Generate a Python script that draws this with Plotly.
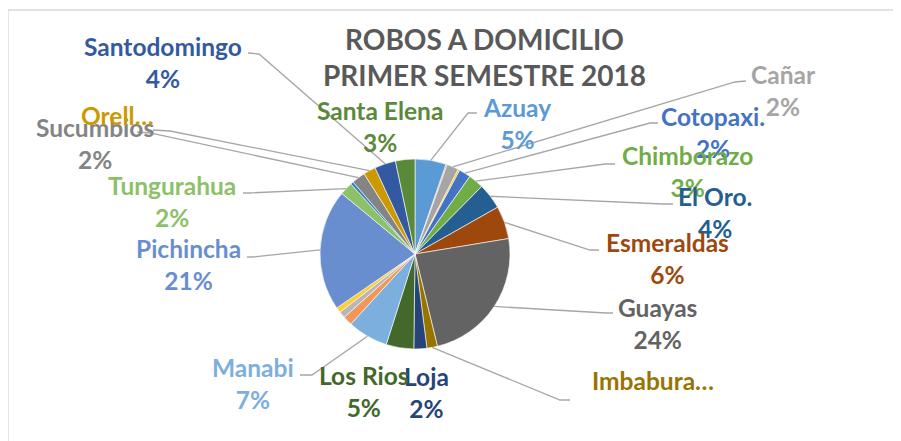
import math
import plotly.graph_objects as go

# provinces in the order Excel drew them (clockwise from 12 o'clock)
provincias = ['Azuay', 'Bolívar', 'Cañar', 'Carchi', 'Cotopaxi', 'Chimborazo',
              'El Oro', 'Esmeraldas', 'Guayas', 'Imbabura', 'Loja', 'Los Rios',
              'Manabi', 'Morona Santiago', 'Napo', 'Pastaza', 'Pichincha',
              'Tungurahua', 'Zamora Chinchipe', 'Sucumbios', 'Orellana',
              'Santodomingo', 'Santa Elena']
porcentaje = [5.3, 0.2, 2.0, 0.3, 2.0, 2.6, 4.4, 5.6, 23.8, 1.8, 2.2, 4.7,
              6.9, 1.6, 1.1, 0.9, 20.6, 2.2, 0.5, 2.3, 2.1, 3.6, 3.3]
colores = ['#5B9BD5', '#ED7D31', '#A5A5A5', '#FFC000', '#4472C4', '#70AD47',
           '#255E91', '#9E480E', '#636363', '#997300', '#264478', '#43682B',
           '#7CAFDD', '#F1975A', '#B7B7B7', '#FFCD33', '#698ED0', '#8CC168',
           '#327DC2', '#848484', '#CC9A00', '#335AA1', '#5A8A39']

# data label text shown by Excel; False = truncated label without percent
etiquetas = {
    'Santodomingo': ('Santodomingo', True),
    'Santa Elena': ('Santa Elena', True),
    'Azuay': ('Azuay', True),
    'Cañar': ('Cañar', True),
    'Cotopaxi': ('Cotopaxi.', True),
    'Chimborazo': ('Chimborazo', True),
    'El Oro': ('El Oro.', True),
    'Esmeraldas': ('Esmeraldas', True),
    'Guayas': ('Guayas', True),
    'Imbabura': ('Imbabura…', False),
    'Loja': ('Loja', True),
    'Los Rios': ('Los Rios', True),
    'Manabi': ('Manabi', True),
    'Pichincha': ('Pichincha', True),
    'Tungurahua': ('Tungurahua', True),
    'Sucumbios': ('Sucumbios', True),
    'Orellana': ('Orell…', False),
}

W, H = 901, 441
OFF = 8  # page body margin
CX, CY, R = 415, 254, 95

# label block centres (px in the screenshot) and leader line elbow/end
pos_etiqueta = {
    'Santodomingo': (163, 63), 'Santa Elena': (380, 127), 'Azuay': (517, 123),
    'Cañar': (783, 90), 'Cotopaxi': (713, 132), 'Chimborazo': (687, 171),
    'El Oro': (715, 212), 'Esmeraldas': (667, 258), 'Guayas': (657, 323),
    'Imbabura': (653, 380), 'Loja': (426, 392), 'Los Rios': (364, 391),
    'Manabi': (253, 383), 'Pichincha': (188, 264), 'Tungurahua': (172, 201),
    'Sucumbios': (95, 143), 'Orellana': (117, 115),
}
guias = {
    'Santodomingo': [(259, 54), (248, 53)],
    'Azuay': [(468, 113), (477, 113)],
    'Cañar': [(735, 82), (746, 81)],
    'Cotopaxi': [(650, 123), (658, 123)],
    'Chimborazo': [(605, 164), (615, 164)],
    'El Oro': [(663, 204), (673, 204)],
    'Esmeraldas': [(590, 250), (599, 250)],
    'Guayas': [(606, 313), (613, 313)],
    'Imbabura': [(560, 400), (570, 400)],
    'Manabi': [(312, 375), (300, 375)],
    'Pichincha': [(253, 257), (247, 257)],
    'Tungurahua': [(249, 193), (243, 193)],
    'Sucumbios': [(150, 133), (137, 132)],
    'Orellana': [(170, 131), (153, 130)],
}


def px(x):
    return (x - OFF) / W


def py(y):
    return 1 - (y - OFF) / H


fig = go.Figure(go.Pie(
    labels=provincias, values=porcentaje, sort=False, direction='clockwise',
    rotation=0, textinfo='none', hoverinfo='label+percent',
    marker=dict(colors=colores, line=dict(color='white', width=0.6)),
    domain=dict(x=[px(CX - R), px(CX + R)], y=[py(CY + R), py(CY - R)]),
))

total = sum(porcentaje)
acum = 0
anotaciones = []
formas = []
for nombre, v, col in zip(provincias, porcentaje, colores):
    medio = 2 * math.pi * (acum + v / 2) / total
    acum += v
    if nombre not in etiquetas:
        continue
    texto, con_pct = etiquetas[nombre]
    if con_pct:
        texto = texto + '<br>' + str(round(v / total * 100)) + '%'
    lx, ly = pos_etiqueta[nombre]
    anotaciones.append(dict(
        x=px(lx), y=py(ly), xref='paper', yref='paper', text=texto,
        showarrow=False, xanchor='center', yanchor='middle', align='center',
        font=dict(family='Lato', size=24.5, color=col, weight='bold')))
    if nombre in guias:
        bx = CX + R * math.sin(medio)
        by = CY - R * math.cos(medio)
        pts = [(bx, by)] + guias[nombre]
        path = 'M ' + ' L '.join('%.4f,%.4f' % (px(a), py(b)) for a, b in pts)
        formas.append(dict(type='path', path=path, xref='paper', yref='paper',
                           line=dict(color='#A6A6A6', width=1.3)))

# chart frame (only top and left edges are visible)
formas.append(dict(type='rect', xref='paper', yref='paper',
                   x0=px(8), x1=px(W + 20), y0=py(10), y1=py(H + 20),
                   line=dict(color='#D9D9D9', width=1.3), layer='below'))

anotaciones.append(dict(
    x=px(484), y=py(57), xref='paper', yref='paper',
    text='ROBOS A DOMICILIO<br>PRIMER SEMESTRE 2018', showarrow=False,
    xanchor='center', yanchor='middle', align='center',
    font=dict(family='Lato', size=28, color='#595959', weight='bold')))

fig.update_layout(
    width=W, height=H, margin=dict(l=0, r=0, t=0, b=0),
    paper_bgcolor='white', plot_bgcolor='white', showlegend=False,
    annotations=anotaciones, shapes=formas,
    font=dict(family='Lato'))

fig.write_html('out.html')
